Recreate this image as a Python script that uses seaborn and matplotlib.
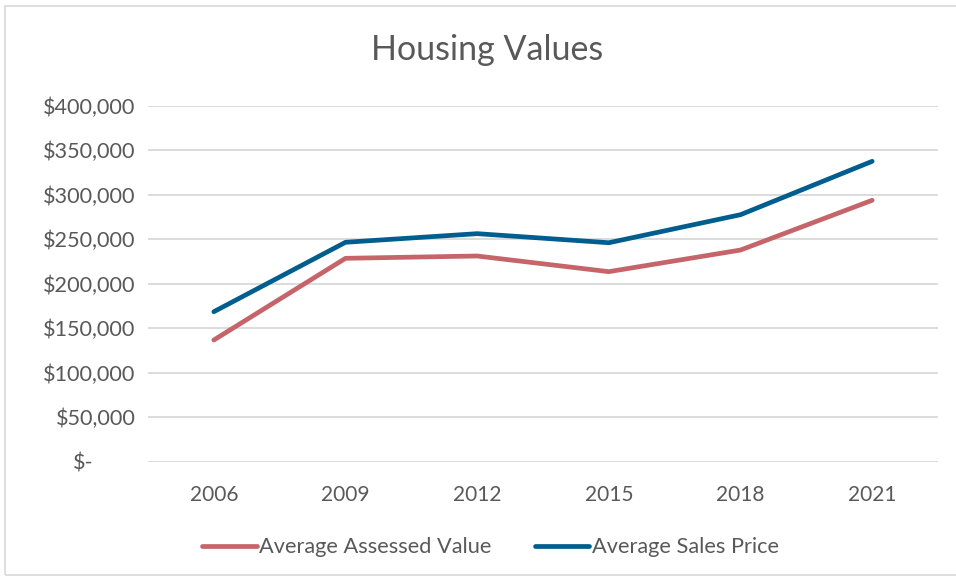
import matplotlib
matplotlib.use("Agg")
import matplotlib.pyplot as plt
import matplotlib.transforms as mtransforms
from matplotlib.patches import Rectangle
import seaborn as sns
import pandas as pd

years = ["2006", "2009", "2012", "2015", "2018", "2021"]
assessed_value = [136500, 228300, 230900, 213300, 237600, 293500]
sales_price = [168300, 246300, 256000, 245800, 277300, 337300]
y_ticks = [0, 50000, 100000, 150000, 200000, 250000, 300000, 350000, 400000]
y_tick_labels = ["$-", "$50,000", "$100,000", "$150,000", "$200,000",
                 "$250,000", "$300,000", "$350,000", "$400,000"]

series_names = ["Average Assessed Value", "Average Sales Price"]
df = pd.DataFrame({
    "Year": years * 2,
    "Value": assessed_value + sales_price,
    "Series": [series_names[0]] * len(years) + [series_names[1]] * len(years),
})

sns.set_theme(style="white")
plt.rcParams["font.family"] = ["Lato", "DejaVu Sans"]
text_color = "#595959"
grid_color = "#D9D9D9"
palette = {series_names[0]: "#C5656A", series_names[1]: "#005E8E"}

fig = plt.figure(figsize=(9.56, 5.79), dpi=100)
fig.patch.set_facecolor("white")
fig.patches.append(Rectangle((5 / 956, 4 / 579), 1.2, 569 / 579, transform=fig.transFigure,
                             fill=False, edgecolor=grid_color, linewidth=1.2))

ax = fig.add_axes([148 / 956, (579 - 461.5) / 579, 790 / 956, 356 / 579])
sns.lineplot(data=df, x="Year", y="Value", hue="Series", palette=palette,
             linewidth=3.4, ax=ax, legend=True, sort=False)
for line in ax.lines:
    line.set_solid_capstyle("round")
    line.set_solid_joinstyle("round")

ax.set_xlim(-0.5, len(years) - 0.5)
ax.set_ylim(0, 400000)
ax.set_yticks(y_ticks)
ax.set_yticklabels(y_tick_labels)
ax.set_xlabel("")
ax.set_ylabel("")
ax.yaxis.grid(True, color=grid_color, linewidth=1.3)
ax.set_axisbelow(True)
for s in ax.spines.values():
    s.set_visible(False)
ax.tick_params(axis="y", length=0, pad=9, labelsize=15.6, labelcolor=text_color)
ax.tick_params(axis="x", length=0, pad=17, labelsize=15, labelcolor=text_color)

# Accounting-style zero label sits further left of the axis
zero_label = ax.get_yticklabels()[0]
zero_label.set_transform(zero_label.get_transform() +
                         mtransforms.ScaledTranslation(-42 / 100, 0, fig.dpi_scale_trans))

fig.suptitle("Housing Values", x=487 / 956, y=1 - 50 / 579, va="center",
             fontsize=24.5, color=text_color)

handles, labels = ax.get_legend_handles_labels()
ax.legend(handles, labels, loc="upper center", bbox_to_anchor=(0.4335, -0.158), ncol=2,
          frameon=False, fontsize=15.7, labelcolor=text_color, handlelength=2.5,
          handletextpad=0.1, columnspacing=2.0)

fig.savefig("out.png", dpi=100)
